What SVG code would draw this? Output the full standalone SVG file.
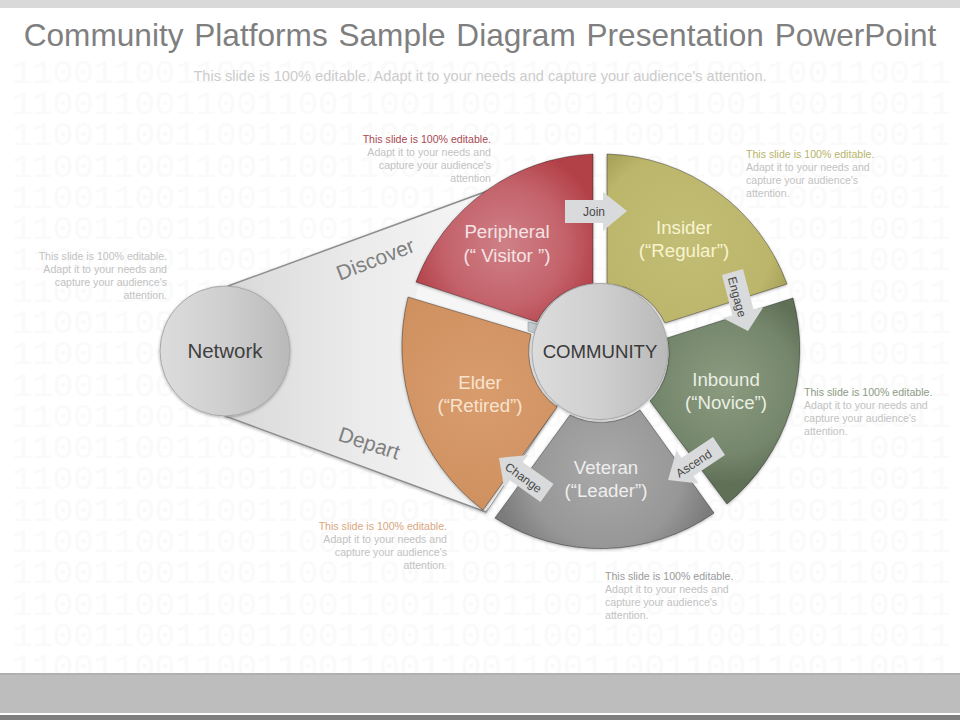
<svg xmlns="http://www.w3.org/2000/svg" width="960" height="720" viewBox="0 0 960 720">
<style>
text{font-family:"Liberation Sans",Arial,sans-serif}
.bin{font-family:"Liberation Mono","DejaVu Sans Mono",monospace;font-size:34px;fill:#fafafa}
.note{font-size:10.6px;fill:#c2c2c2}
.r{text-anchor:end}
.lab{font-size:18.7px;text-anchor:middle}
.arr{fill:#d9dadc}
.arrt{font-size:12px;fill:#484848;text-anchor:middle}
.seg{stroke:#000;stroke-opacity:.35;stroke-width:1;filter:url(#sh)}
.side{font-size:21px;fill:#808080;text-anchor:middle}
.hub{stroke:#a8a8a8;stroke-width:1;filter:url(#sh)}
</style>
<defs>
<filter id="sh" x="-10%" y="-10%" width="120%" height="120%"><feDropShadow dx="0" dy="1" stdDeviation="1.5" flood-color="#000" flood-opacity=".3"/></filter>
<radialGradient id="gP" gradientUnits="userSpaceOnUse" cx="505" cy="245" r="100"><stop offset="0" stop-color="#cf8087"/><stop offset=".6" stop-color="#c4636b"/><stop offset="1" stop-color="#b23f47"/></radialGradient>
<radialGradient id="gI" gradientUnits="userSpaceOnUse" cx="685" cy="240" r="110"><stop offset="0" stop-color="#c2bd75"/><stop offset=".8" stop-color="#bcb66b"/><stop offset="1" stop-color="#a8a35c"/></radialGradient>
<radialGradient id="gB" gradientUnits="userSpaceOnUse" cx="725" cy="385" r="100"><stop offset="0" stop-color="#8b9b80"/><stop offset=".7" stop-color="#74866b"/><stop offset="1" stop-color="#5f6f57"/></radialGradient>
<radialGradient id="gV" gradientUnits="userSpaceOnUse" cx="605" cy="470" r="110"><stop offset="0" stop-color="#a9a9a9"/><stop offset=".7" stop-color="#979797"/><stop offset="1" stop-color="#7c7c7c"/></radialGradient>
<radialGradient id="gE" gradientUnits="userSpaceOnUse" cx="480" cy="395" r="110"><stop offset="0" stop-color="#d99c6d"/><stop offset="1" stop-color="#cf9160"/></radialGradient>
<linearGradient id="gH" x1="0" x2="1" y1="0" y2="0"><stop offset="0" stop-color="#dcdcdc"/><stop offset=".5" stop-color="#cfcfcf"/><stop offset="1" stop-color="#b9b9b9"/></linearGradient>
<linearGradient id="gW" gradientUnits="userSpaceOnUse" x1="230" x2="490" y1="0" y2="0"><stop offset="0" stop-color="#d9d9d9"/><stop offset=".5" stop-color="#ebebeb"/><stop offset="1" stop-color="#f6f6f6"/></linearGradient>
</defs>

<rect width="960" height="720" fill="#fff"/>
<g id="background">
<text class="bin" x="12" y="83">1100110011001100110011001100110011001100110011</text>
<text class="bin" x="12" y="114">1100110011001100110011001100110011001100110011</text>
<text class="bin" x="12" y="145">1100110011001100110011001100110011001100110011</text>
<text class="bin" x="12" y="177">1100110011001100110011001100110011001100110011</text>
<text class="bin" x="12" y="208">1100110011001100110011001100110011001100110011</text>
<text class="bin" x="12" y="239">1100110011001100110011001100110011001100110011</text>
<text class="bin" x="12" y="270">1100110011001100110011001100110011001100110011</text>
<text class="bin" x="12" y="302">1100110011001100110011001100110011001100110011</text>
<text class="bin" x="12" y="333">1100110011001100110011001100110011001100110011</text>
<text class="bin" x="12" y="364">1100110011001100110011001100110011001100110011</text>
<text class="bin" x="12" y="396">1100110011001100110011001100110011001100110011</text>
<text class="bin" x="12" y="427">1100110011001100110011001100110011001100110011</text>
<text class="bin" x="12" y="458">1100110011001100110011001100110011001100110011</text>
<text class="bin" x="12" y="489">1100110011001100110011001100110011001100110011</text>
<text class="bin" x="12" y="521">1100110011001100110011001100110011001100110011</text>
<text class="bin" x="12" y="552">1100110011001100110011001100110011001100110011</text>
<text class="bin" x="12" y="583">1100110011001100110011001100110011001100110011</text>
<text class="bin" x="12" y="615">1100110011001100110011001100110011001100110011</text>
<text class="bin" x="12" y="646">1100110011001100110011001100110011001100110011</text>
<text class="bin" x="12" y="677">1100110011001100110011001100110011001100110011</text>
<rect x="0" y="0" width="960" height="8" fill="#d9d9d9"/>
<rect x="0" y="673" width="960" height="40" fill="#bdbdbd"/>
<rect x="0" y="673" width="960" height="2" fill="#b0b0b0"/>
<rect x="0" y="715" width="960" height="5" fill="#7f7f7f"/>
</g>

<g id="title">
<text x="480" y="46" text-anchor="middle" font-size="31.6" fill="#7f7f7f" word-spacing="2">Community Platforms Sample Diagram Presentation PowerPoint</text>
<text x="480" y="81" text-anchor="middle" font-size="14.6" fill="#cccccc">This slide is 100% editable. Adapt it to your needs and capture your audience's attention.</text>
</g>

<g id="funnel">
<path d="M228,286 L493,189 L560,300 L560,400 L486,512 L225,416 Z" fill="url(#gW)" stroke="#8e8e8e" stroke-width="1.5" filter="url(#sh)"/>
<path d="M493,189 L560,300 L560,400 L486,512 L520,440 L402,350 L420,280 Z" fill="#f6f6f6"/>
<text class="side" transform="translate(378,266) rotate(-21)">Discover</text>
<text class="side" transform="translate(367,450) rotate(18)">Depart</text>
</g>

<g id="gap-sliver"><path d="M528,322 L538,324 L537,334 L528,331 Z" fill="#c4c9ce" stroke="#9aa0a6" stroke-width=".7"/></g>

<g id="node-peripheral">
<path class="seg" fill="url(#gP)" d="M593,154 A198,198 0 0 0 416,282 L537,322 A68,68 0 0 1 593,284 Z"/>
<text class="lab" x="507" y="238" fill="#f5e3e4">Peripheral</text>
<text class="lab" x="507" y="262" fill="#f5e3e4">(“ Visitor ”)</text>
</g>
<g id="node-insider">
<path class="seg" fill="url(#gI)" d="M607,154 A198,198 0 0 1 787,284 L665,323 A68,68 0 0 0 607,284 Z"/>
<text class="lab" x="684" y="234" fill="#f7f4ce">Insider</text>
<text class="lab" x="684" y="257" fill="#f7f4ce">(“Regular”)</text>
</g>
<g id="node-inbound">
<path class="seg" fill="url(#gB)" d="M793,298 A200,200 0 0 1 727,504 L650,401 A68,68 0 0 0 667,338 Z"/>
<text class="lab" x="726" y="386" fill="#eaeee3">Inbound</text>
<text class="lab" x="726" y="409" fill="#eaeee3">(“Novice”)</text>
</g>
<g id="node-veteran">
<path class="seg" fill="url(#gV)" d="M714,513 A198,198 0 0 1 495,518 L570,415 A68,68 0 0 0 640,410 Z"/>
<text class="lab" x="606" y="474" fill="#eeeeee">Veteran</text>
<text class="lab" x="606" y="497" fill="#eeeeee">(“Leader”)</text>
</g>
<g id="node-elder">
<path class="seg" fill="url(#gE)" d="M483,510 A205,205 0 0 1 408,297 L531,334 A68,68 0 0 0 557,407 Z"/>
<text class="lab" x="480" y="389" fill="#f8e3cf">Elder</text>
<text class="lab" x="480" y="412" fill="#f8e3cf">(“Retired”)</text>
</g>

<g id="node-network">
<circle class="hub" cx="225" cy="351" r="65" fill="url(#gH)"/>
<text x="225" y="358" text-anchor="middle" font-size="20.5" fill="#404040">Network</text>
</g>
<g id="node-community">
<circle class="hub" cx="600" cy="351.5" r="68" fill="url(#gH)"/>
<text x="600" y="358" text-anchor="middle" font-size="18.6" fill="#3a3a3a">COMMUNITY</text>
</g>

<g id="connectors">
<polygon class="arr" points="565,200 603,200 603,192 627,211 603,231 603,223 565,223"/>
<text class="arrt" x="594" y="216">Join</text>
<polygon class="arr" points="722,275 743,269 753.6,309.8 763.3,307.3 748,331 722.7,317.9 732.4,315.4"/>
<text class="arrt" transform="translate(733,298) rotate(75)">Engage</text>
<polygon class="arr" points="713,437 725,455 693.5,476 698.5,483.6 668,480 676.5,450.4 681.5,458"/>
<text class="arrt" transform="translate(696,467) rotate(-33)">Ascend</text>
<polygon class="arr" points="553.5,484 540.5,502 509.5,480 504,487 499,458 528,455 522.5,462"/>
<text class="arrt" transform="translate(521,481) rotate(36)">Change</text>
</g>

<g id="note-network">
<text class="note r" x="167" y="260">This slide is 100% editable.</text>
<text class="note r" x="167" y="273">Adapt it to your needs and</text>
<text class="note r" x="167" y="286">capture your audience's</text>
<text class="note r" x="167" y="299">attention.</text>
</g>
<g id="note-peripheral">
<text class="note r" x="491" y="143" style="fill:#a94a52">This slide is 100% editable.</text>
<text class="note r" x="491" y="156">Adapt it to your needs and</text>
<text class="note r" x="491" y="169">capture your audience's</text>
<text class="note r" x="491" y="182">attention</text>
</g>
<g id="note-insider">
<text class="note" x="746" y="158" style="fill:#b9b46c">This slide is 100% editable.</text>
<text class="note" x="746" y="171">Adapt it to your needs and</text>
<text class="note" x="746" y="184">capture your audience's</text>
<text class="note" x="746" y="197">attention.</text>
</g>
<g id="note-inbound">
<text class="note" x="804" y="396" style="fill:#8e9c86">This slide is 100% editable.</text>
<text class="note" x="804" y="409">Adapt it to your needs and</text>
<text class="note" x="804" y="422">capture your audience's</text>
<text class="note" x="804" y="435">attention.</text>
</g>
<g id="note-elder">
<text class="note r" x="447" y="530" style="fill:#d8a67e">This slide is 100% editable.</text>
<text class="note r" x="447" y="543">Adapt it to your needs and</text>
<text class="note r" x="447" y="556">capture your audience's</text>
<text class="note r" x="447" y="569">attention.</text>
</g>
<g id="note-veteran">
<text class="note" x="605" y="580" style="fill:#9a9a9a">This slide is 100% editable.</text>
<text class="note" x="605" y="593">Adapt it to your needs and</text>
<text class="note" x="605" y="606">capture your audience's</text>
<text class="note" x="605" y="619">attention.</text>
</g>
</svg>
